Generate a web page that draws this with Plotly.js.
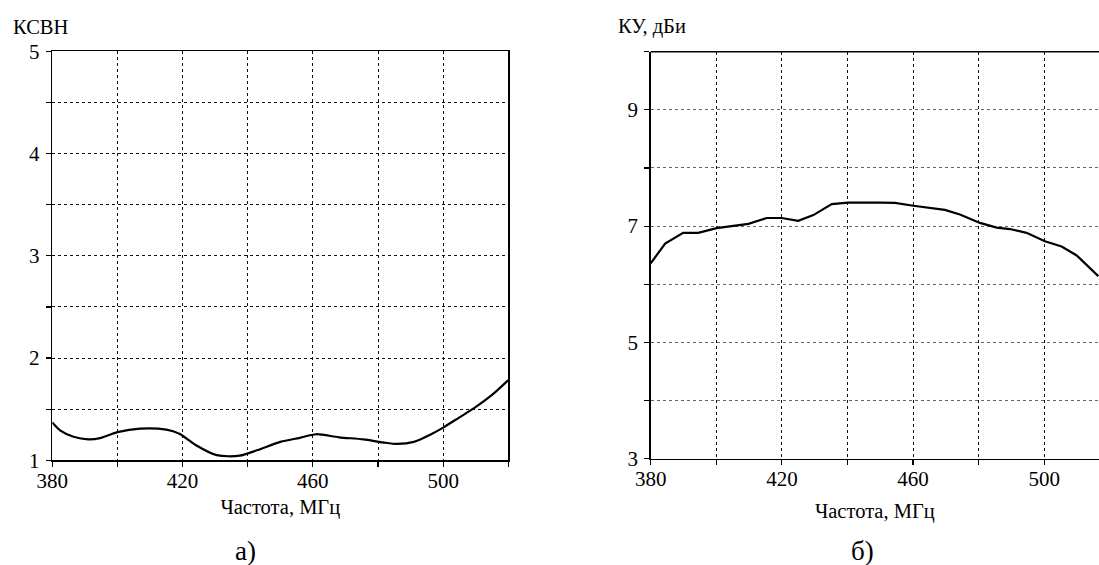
<!DOCTYPE html>
<html>
<head>
<meta charset="utf-8">
<script src="https://cdn.plot.ly/plotly-3.0.1.min.js"></script>
<style>html,body{margin:0;padding:0;background:#fff;}#chart{width:1099px;height:565px;}</style>
</head>
<body>
<div id="chart"></div>
<script>
// ---- data ----
const vswrFreq = [380, 382.5, 386.5, 391, 395, 400, 407, 415, 419, 424, 430.5, 437.5, 443, 450, 456, 461, 468, 475.5, 481.5, 486, 491, 496, 500, 505, 509.5, 515, 520];
const vswrVal  = [1.37, 1.29, 1.23, 1.205, 1.22, 1.275, 1.31, 1.30, 1.26, 1.15, 1.05, 1.045, 1.10, 1.18, 1.22, 1.255, 1.225, 1.205, 1.175, 1.16, 1.18, 1.25, 1.32, 1.42, 1.51, 1.64, 1.785];

const gainFreq = [380, 384.4, 389.9, 394.5, 400.1, 409.8, 415.4, 419.9, 425, 429.6, 435.2, 440.2, 449.9, 454.5, 460.1, 465.2, 469.7, 474.3, 480.4, 485.5, 489.5, 494.6, 500.2, 505.3, 509.9, 516.5];
const gainVal  = [6.36, 6.70, 6.885, 6.885, 6.965, 7.04, 7.14, 7.14, 7.09, 7.19, 7.38, 7.405, 7.405, 7.40, 7.35, 7.31, 7.28, 7.20, 7.055, 6.975, 6.95, 6.885, 6.74, 6.65, 6.495, 6.14];

const freqTicks = [380, 400, 420, 440, 460, 480, 500, 520];
const freqTickText = ['380', '', '420', '', '460', '', '500', ''];
const vswrTicks = [1, 1.5, 2, 2.5, 3, 3.5, 4, 4.5, 5];
const vswrTickText = ['1', '', '2', '', '3', '', '4', '', '5'];
const gainTicks = [3, 4, 5, 6, 7, 8, 9, 10];
const gainTickText = ['3', '', '5', '', '7', '', '9', ''];

const xTitle = 'Частота, МГц';
const leftYLabel = 'КСВН';
const rightYLabel = 'КУ, дБи';
const leftCaption = 'а)';
const rightCaption = 'б)';

// ---- layout helpers ----
const W = 1099, H = 565;
const px = x => x / W;
const py = y => 1 - y / H;
const serif = '"Liberation Serif", "Times New Roman", serif';
const tickFont = {family: serif, size: 21, color: '#000'};

const traces = [
  {x: vswrFreq, y: vswrVal, xaxis: 'x', yaxis: 'y', mode: 'lines',
   line: {color: '#000', width: 2.2, shape: 'spline', smoothing: 0.8}, hoverinfo: 'skip'},
  {x: gainFreq, y: gainVal, xaxis: 'x2', yaxis: 'y2', mode: 'lines',
   line: {color: '#000', width: 2.2}, hoverinfo: 'skip'}
];

const commonAxis = {
  showline: true, linecolor: '#000', linewidth: 1.5,
  ticks: 'outside', ticklen: 5, tickwidth: 1.2, tickcolor: '#000',
  showgrid: true, gridwidth: 1, griddash: '3px,3px',
  zeroline: false, tickfont: tickFont, tickmode: 'array', fixedrange: true
};

const layout = {
  width: W, height: H,
  margin: {l: 0, r: 0, t: 0, b: 0},
  paper_bgcolor: '#fff', plot_bgcolor: '#fff',
  showlegend: false,
  xaxis: Object.assign({}, commonAxis, {
    domain: [px(52.3), px(508.3)], range: [380, 520], anchor: 'y',
    tickvals: freqTicks, ticktext: freqTickText, mirror: true, gridcolor: '#111', ticklabelstandoff: -4,
    title: {text: xTitle, font: {family: serif, size: 20.5, color: '#000'}, standoff: 7}
  }),
  yaxis: Object.assign({}, commonAxis, {
    domain: [py(460.3), py(51.3)], range: [1, 5], anchor: 'x',
    tickvals: vswrTicks, ticktext: vswrTickText, mirror: true, gridcolor: '#111', ticklabelstandoff: 2
  }),
  xaxis2: Object.assign({}, commonAxis, {
    domain: [px(650.7), 1], range: [380, 516.7], anchor: 'y2',
    tickvals: freqTicks, ticktext: freqTickText, mirror: false, gridcolor: '#111', ticklabelstandoff: -4,
    title: {text: xTitle, font: {family: serif, size: 20.5, color: '#000'}, standoff: 13}
  }),
  yaxis2: Object.assign({}, commonAxis, {
    domain: [py(458.7), py(51.7)], range: [3, 10], anchor: 'x2',
    tickvals: gainTicks, ticktext: gainTickText, mirror: false, gridcolor: '#666', ticklabelstandoff: 2
  }),
  shapes: [
    // top border of the right plot
    {type: 'line', xref: 'x2 domain', yref: 'y2 domain', x0: 0, x1: 1, y0: 1, y1: 1,
     line: {color: '#000', width: 1.5}}
  ],
  annotations: [
    {text: leftYLabel, xref: 'paper', yref: 'paper', x: px(11), y: py(27), xanchor: 'left', yanchor: 'middle',
     showarrow: false, font: {family: serif, size: 20.5, color: '#000'}},
    {text: rightYLabel, xref: 'paper', yref: 'paper', x: px(616), y: py(27), xanchor: 'left', yanchor: 'middle',
     showarrow: false, font: {family: serif, size: 20.5, color: '#000'}},
    {text: leftCaption, xref: 'paper', yref: 'paper', x: px(245), y: py(551), xanchor: 'center', yanchor: 'middle',
     showarrow: false, font: {family: serif, size: 27, color: '#000'}},
    {text: rightCaption, xref: 'paper', yref: 'paper', x: px(862), y: py(551), xanchor: 'center', yanchor: 'middle',
     showarrow: false, font: {family: serif, size: 27, color: '#000'}}
  ]
};

Plotly.newPlot('chart', traces, layout, {staticPlot: true, displayModeBar: false});
</script>
</body>
</html>
